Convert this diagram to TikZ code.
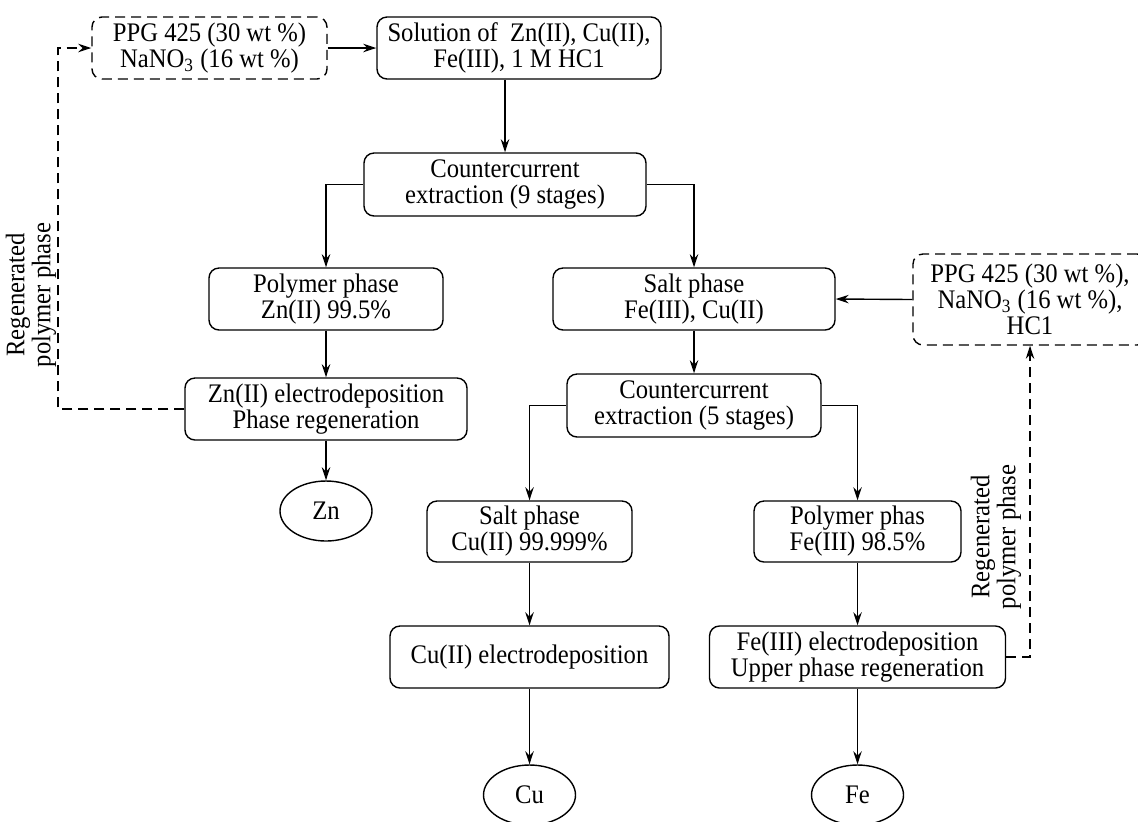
\documentclass[tikz,border=0pt]{standalone}
\usepackage{fontspec}
\setmainfont{Liberation Serif}[FakeStretch=0.92]
\usetikzlibrary{arrows.meta,shapes.geometric}
\begin{document}
\begin{tikzpicture}[x=0.5pt,y=-0.5pt,
  font=\fontsize{13.4}{13}\selectfont,
  box/.style={draw, rounded corners=5pt, line width=0.7pt, align=center, inner sep=0pt},
  dbox/.style={box, dash pattern=on 5pt off 3pt},
  oval/.style={draw, ellipse, line width=0.7pt, inner sep=0pt, minimum width=46pt, minimum height=30pt},
  arr/.style={-{Stealth[length=6.5pt,width=4.2pt]}, line width=0.7pt},
  darr/.style={arr, dash pattern=on 5pt off 3pt},
  lbl/.style={align=center, inner sep=0pt, rotate=90}]
\useasboundingbox (0,0) rectangle (1138,821);
\clip (0,0) rectangle (1138,821);
% nodes
\node[dbox, minimum width=117.5pt, minimum height=31pt] (feed1) at (209.5,48) {PPG 425 (30 wt \%)\\NaNO\textsubscript{3} (16 wt \%)};
\node[box, minimum width=142pt, minimum height=31pt] (sol) at (519,48) {Solution of~ Zn(II), Cu(II),\\Fe(III), 1 M HC1};
\node[box, minimum width=141pt, minimum height=31.5pt] (cc1) at (505,184.5) {Countercurrent\\extraction (9 stages)};
\node[box, minimum width=117pt, minimum height=31pt] (polyZn) at (326,299) {Polymer phase\\Zn(II) 99.5\%};
\node[box, minimum width=141pt, minimum height=31pt] (saltFeCu) at (694,299) {Salt phase\\Fe(III), Cu(II)};
\node[dbox, minimum width=117pt, minimum height=45.5pt] (feed2) at (1030,299.5) {PPG 425 (30 wt \%),\\NaNO\textsubscript{3} (16 wt \%),\\HC1};
\node[box, minimum width=141pt, minimum height=31pt] (zndep) at (326,409) {Zn(II) electrodeposition\\Phase regeneration};
\node[oval] (Zn) at (326,511) {Zn};
\node[box, minimum width=127pt, minimum height=31.5pt] (cc2) at (694,405.5) {Countercurrent\\extraction (5 stages)};
\node[box, minimum width=102.5pt, minimum height=30.5pt] (saltCu) at (529.5,531.5) {Salt phase\\Cu(II) 99.999\%};
\node[box, minimum width=103.5pt, minimum height=30.5pt] (polyFe) at (857.5,531.5) {Polymer phas\\Fe(III) 98.5\%};
\node[box, minimum width=139.5pt, minimum height=31pt] (cudep) at (529.5,657) {Cu(II) electrodeposition};
\node[box, minimum width=148pt, minimum height=31pt] (fedep) at (857.5,657) {Fe(III) electrodeposition\\Upper phase regeneration};
\node[oval] (Cu) at (529.5,795) {Cu};
\node[oval] (Fe) at (857.5,795) {Fe};
\node[lbl] (lab1) at (31,295) {Regenerated\\polymer phase};
\node[lbl] (lab2) at (996,537) {Regenerated\\polymer phase};
\coordinate (lret) at (58,300);
% connectors
\draw[arr] (feed1.east) -- (sol.west);
\draw[arr] (sol.south -| cc1.north) -- (cc1.north);
\draw[arr] (cc1.west) -| (polyZn.north);
\draw[arr] (cc1.east) -| (saltFeCu.north);
\draw[arr] (polyZn) -- (zndep);
\draw[arr] (zndep) -- (Zn);
\draw[darr] (zndep.west) -- (zndep.west -| lret) -- (feed1.west -| lret) -- (feed1.west);
\draw[arr] (feed2.west) -- (saltFeCu.east);
\draw[arr] (saltFeCu) -- (cc2);
\draw[arr] (cc2.west) -| (saltCu.north);
\draw[arr] (cc2.east) -| (polyFe.north);
\draw[arr] (saltCu) -- (cudep);
\draw[arr] (polyFe) -- (fedep);
\draw[arr] (cudep) -- (Cu);
\draw[arr] (fedep) -- (Fe);
\draw[darr] (fedep.east) -| (feed2.south);
\end{tikzpicture}
\end{document}
